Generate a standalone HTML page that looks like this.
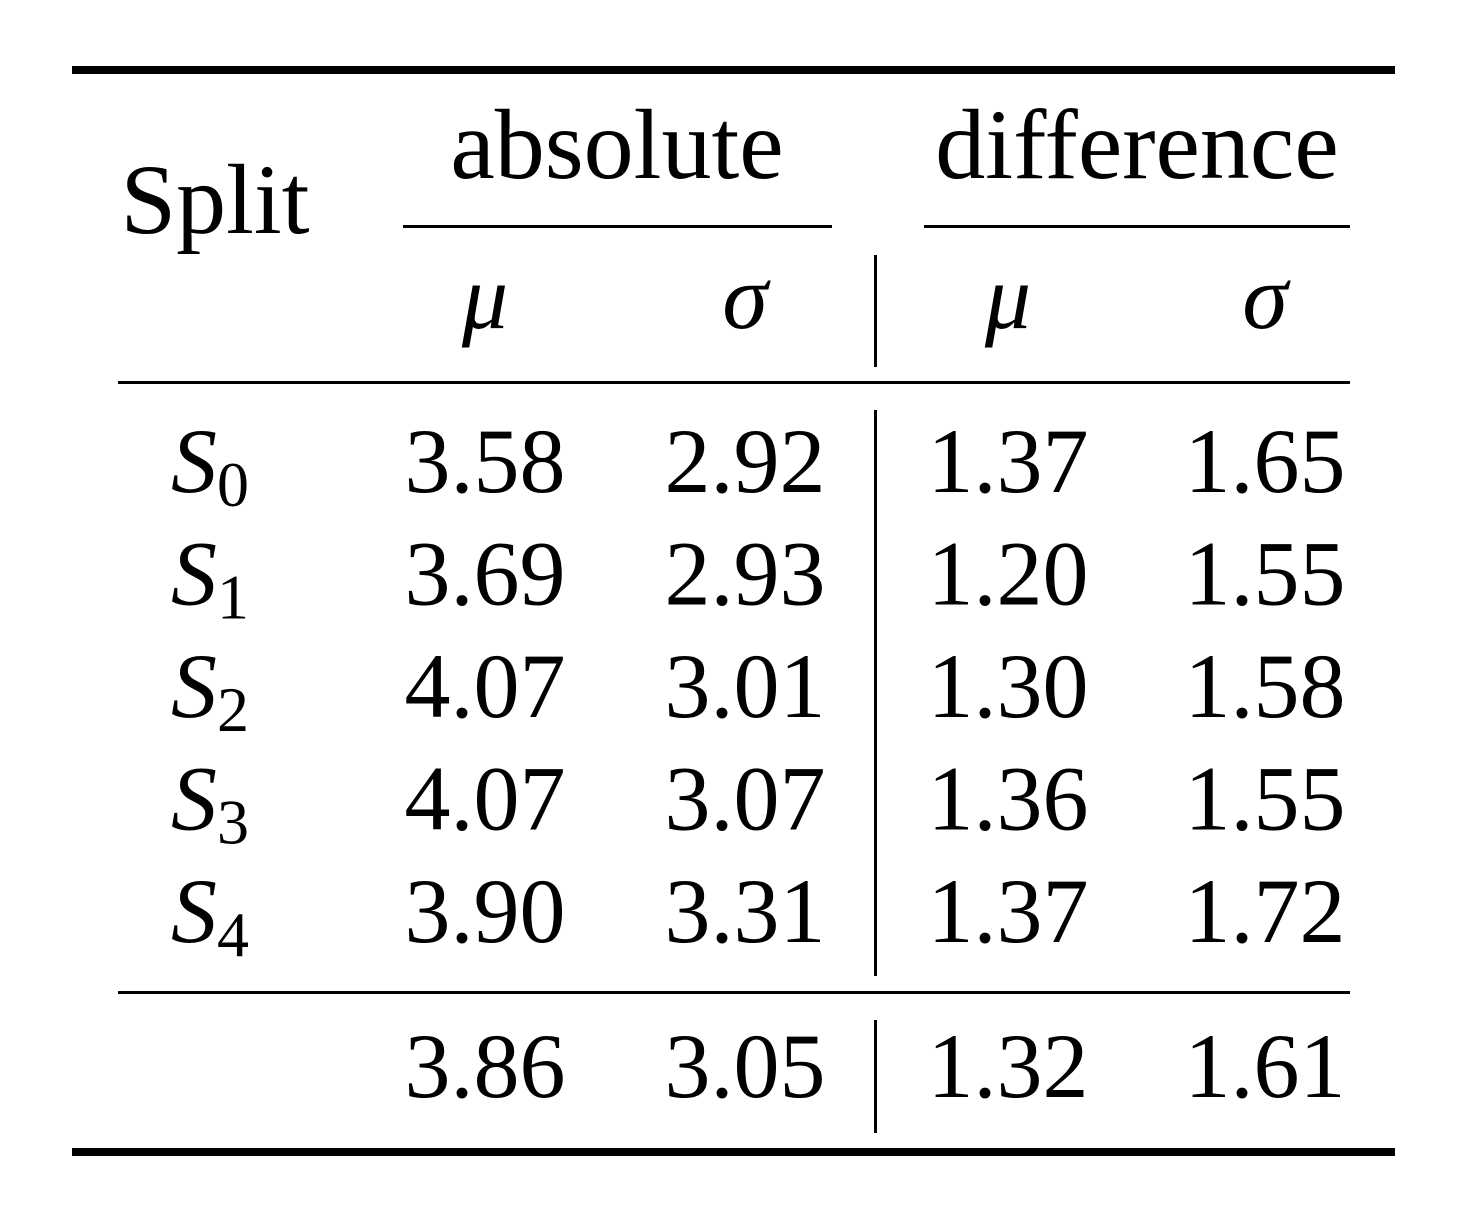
<!DOCTYPE html>
<html><head><meta charset="utf-8"><style>
html,body{margin:0;padding:0;background:#fff;}
svg{display:block;}
text{font-family:"Liberation Serif","DejaVu Serif",serif;fill:#000;}
</style></head><body>
<svg width="1458" height="1212" viewBox="0 0 1458 1212">
<rect x="72" y="66" width="1323" height="8" fill="#000"/>
<rect x="72" y="1148" width="1323" height="8" fill="#000"/>
<rect x="403" y="225" width="429" height="3" fill="#000"/>
<rect x="924" y="225" width="426" height="3" fill="#000"/>
<rect x="118" y="381" width="1232" height="3" fill="#000"/>
<rect x="118" y="991" width="1232" height="3" fill="#000"/>
<rect x="874" y="255" width="3" height="112" fill="#000"/>
<rect x="874" y="410" width="3" height="566" fill="#000"/>
<rect x="874" y="1020" width="3" height="113" fill="#000"/>
<g font-size="92" text-anchor="middle">
<text x="215" y="233" font-size="100">Split</text>
<text x="617" y="178" font-size="100">absolute</text>
<text x="1137" y="178" font-size="100">difference</text>
<text x="485" y="328" font-style="italic">μ</text>
<text x="745" y="328" font-style="italic">σ</text>
<text x="1008" y="328" font-style="italic">μ</text>
<text x="1265" y="328" font-style="italic">σ</text>
</g>
<g id="body" font-size="92" text-anchor="middle"></g>
</svg>
<script>
const splits = ["0","1","2","3","4"];
const absMu = ["3.58","3.69","4.07","4.07","3.90"];
const absSigma = ["2.92","2.93","3.01","3.07","3.31"];
const diffMu = ["1.37","1.20","1.30","1.36","1.37"];
const diffSigma = ["1.65","1.55","1.58","1.55","1.72"];
const totals = ["3.86","3.05","1.32","1.61"];
const NS = "http://www.w3.org/2000/svg";
const g = document.getElementById("body");
const cols = [485, 745, 1008, 1265];
function add(x, y, s, name, extra) {
  const t = document.createElementNS(NS, "text");
  t.setAttribute("x", x); t.setAttribute("y", y);
  t.textContent = s;
  
  
  if (extra) extra(t);
  g.appendChild(t);
  return t;
}
splits.forEach((s, i) => {
  const y = 492 + i * 112.5;
  const lbl = add(210, y, "", "split-label");
  const S = document.createElementNS(NS, "tspan");
  S.setAttribute("font-style", "italic");
  S.textContent = "S";
  lbl.appendChild(S);
  const sub = document.createElementNS(NS, "tspan");
  sub.setAttribute("font-size", "64"); sub.setAttribute("dy", "14");
  sub.textContent = s;
  lbl.appendChild(sub);
  [absMu[i], absSigma[i], diffMu[i], diffSigma[i]].forEach((v, j) => add(cols[j], y, v, "table-cell"));
});
totals.forEach((v, j) => add(cols[j], 1097, v, "average-cell"));
</script>
</body></html>
